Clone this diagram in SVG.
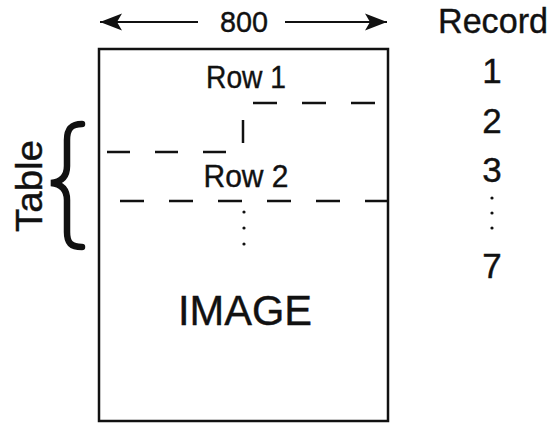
<svg xmlns="http://www.w3.org/2000/svg" width="560" height="424" viewBox="0 0 560 424">
<style>
  .t { font-family: "Liberation Sans", Arial, sans-serif; fill: #111; stroke: #111; stroke-width: 0.4; text-anchor: middle; }
  .ln { stroke: #111; stroke-width: 2.5; fill: none; }
  .dash { stroke: #111; stroke-width: 2.5; fill: none; stroke-dasharray: 24 25; }
  .dot { fill: #111; }
</style>
<defs>
  <marker id="head" viewBox="0 -9 22 18" markerWidth="22" markerHeight="18" refX="22" refY="0" orient="auto-start-reverse" markerUnits="userSpaceOnUse">
    <path d="M22,0 L0,-8.5 L5,0 L0,8.5 Z" fill="#111"/>
  </marker>
</defs>
<rect width="560" height="424" fill="#fff"/>

<g id="connectors">
  <line class="ln" x1="100" y1="22" x2="198" y2="22" style="stroke-width:2" marker-start="url(#head)"/>
  <line class="ln" x1="285" y1="22" x2="387" y2="22" style="stroke-width:2" marker-end="url(#head)"/>
</g>

<g id="width-label">
  <text class="t" x="244" y="32" font-size="30" textLength="48" lengthAdjust="spacingAndGlyphs">800</text>
</g>

<g id="image-box">
  <rect x="99" y="49" width="289" height="372" class="ln"/>
  <text class="t" x="246" y="88" font-size="32" textLength="80" lengthAdjust="spacingAndGlyphs">Row 1</text>
  <line class="dash" x1="253" y1="103" x2="388" y2="103"/>
  <line class="ln" x1="243" y1="120" x2="243" y2="143"/>
  <line class="dash" x1="107" y1="152" x2="230" y2="152" style="stroke-dasharray:23 25"/>
  <text class="t" x="246" y="187" font-size="32" textLength="85" lengthAdjust="spacingAndGlyphs">Row 2</text>
  <line class="dash" x1="120" y1="201" x2="388" y2="201"/>
  <circle class="dot" cx="244" cy="212" r="1.6"/>
  <circle class="dot" cx="244" cy="228" r="1.6"/>
  <circle class="dot" cx="244" cy="244" r="1.6"/>
  <text class="t" x="245" y="325" font-size="42" textLength="134" lengthAdjust="spacingAndGlyphs">IMAGE</text>
</g>

<g id="table-brace">
  <path class="ln" style="stroke-width:6.5;stroke-linecap:round" d="M82,124 C71,124 67,129 67,140 L67,166 C67,177 61,182 51,183 C61,184 67,189 67,200 L67,232 C67,243 71,247 82,247"/>
  <text class="t" font-size="37" textLength="92" lengthAdjust="spacingAndGlyphs" transform="translate(42,186) rotate(-90)">Table</text>
</g>

<g id="record-column">
  <text class="t" x="493" y="33" font-size="35" textLength="110" lengthAdjust="spacingAndGlyphs">Record</text>
  <text class="t" x="492" y="83" font-size="35">1</text>
  <text class="t" x="492" y="133" font-size="35">2</text>
  <text class="t" x="492" y="182" font-size="35">3</text>
  <circle class="dot" cx="492" cy="198" r="1.6"/>
  <circle class="dot" cx="492" cy="213" r="1.6"/>
  <circle class="dot" cx="492" cy="228" r="1.6"/>
  <text class="t" x="492" y="278" font-size="35">7</text>
</g>
</svg>
